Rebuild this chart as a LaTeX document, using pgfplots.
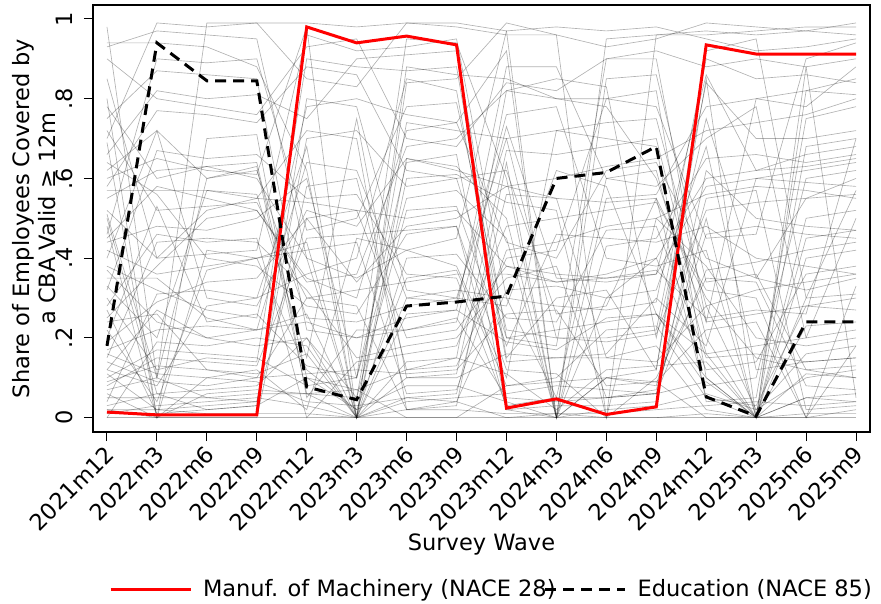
\documentclass[border=0pt]{standalone}
\usepackage{fontspec}
\setmainfont{DejaVu Sans}
\usepackage{pgfplots}
\usepackage{pgfplotstable}
\pgfplotsset{compat=1.18}
\newcommand\F{\fontsize{22.5}{26}\selectfont}

\pgfplotstableread{
id w0 w1 w2 w3 w4 w5 w6 w7 w8 w9 w10 w11 w12 w13 w14 w15
s1 0.98 0.10 0.99 0.99 0.99 0.98 0.99 0.99 0.97 0.00 0.95 0.96 0.96 0.97 0.98 0.98
s2 0.94 0.94 0.93 0.88 0.62 0.00 0.65 0.62 0.58 0.55 0.54 0.55 0.05 0.00 0.30 0.57
s3 0.70 0.99 0.98 0.99 0.85 0.83 0.99 0.98 0.96 0.96 0.00 0.96 0.97 0.96 0.97 0.99
s4 0.62 0.72 0.60 0.63 0.06 0.05 0.74 0.72 0.70 0.20 0.20 0.22 0.84 0.70 0.70 0.72
s5 0.80 0.00 0.42 0.40 0.44 0.00 0.88 0.86 0.85 0.80 0.80 0.82 0.10 0.00 0.82 0.85
s6 0.57 0.57 0.57 0.55 0.54 0.52 0.50 0.52 0.38 0.34 0.35 0.36 0.58 0.60 0.59 0.58
s7 0.35 0.35 0.25 0.22 0.24 0.20 0.22 0.25 0.05 0.04 0.05 0.06 0.37 0.39 0.42 0.44
s8 0.51 0.10 0.05 0.04 0.70 0.72 0.58 0.60 0.62 0.26 0.28 0.55 0.30 0.15 0.12 0.10
s9 0.12 0.27 0.20 0.18 0.20 0.00 0.30 0.32 0.30 0.05 0.05 0.07 0.46 0.48 0.46 0.45
s10 0.05 0.05 0.05 0.06 0.06 0.00 0.10 0.10 0.16 0.15 0.15 0.18 0.02 0.00 0.00 0.18
s11 0.00 0.00 0.00 0.00 0.00 0.00 0.00 0.00 0.00 0.00 0.00 0.00 0.00 0.00 0.00 0.00
s12 0.02 0.02 0.01 0.01 0.01 0.00 0.02 0.02 0.01 0.01 0.00 0.00 0.01 0.00 0.01 0.01
s13 0.93 0.97 0.96 0.95 0.40 0.35 0.42 0.45 0.97 0.98 0.97 0.98 0.95 0.92 0.93 0.95
s14 0.66 0.82 0.80 0.81 0.75 0.90 0.91 0.92 0.20 0.18 0.90 0.90 0.24 0.80 0.82 0.81
s15 0.78 0.60 0.63 0.64 0.10 0.07 0.12 0.15 0.82 0.85 0.83 0.20 0.75 0.35 0.55 0.60
s16 0.44 0.48 0.47 0.50 0.60 0.10 0.55 0.57 0.45 0.00 0.43 0.45 0.65 0.66 0.64 0.66
s17 0.30 0.12 0.15 0.14 0.90 0.88 0.87 0.88 0.15 0.30 0.32 0.12 0.85 0.00 0.88 0.90
s18 0.25 0.38 0.50 0.52 0.35 0.30 0.72 0.74 0.44 0.40 0.62 0.64 0.40 0.35 0.32 0.35
s19 0.17 0.22 0.23 0.22 0.26 0.00 0.05 0.06 0.56 0.55 0.15 0.14 0.28 0.02 0.16 0.18
s20 0.08 0.15 0.14 0.13 0.45 0.46 0.47 0.48 0.12 0.11 0.00 0.10 0.35 0.34 0.08 0.07
s21 0.60 0.65 0.62 0.61 0.98 0.00 0.84 0.85 0.99 0.96 0.93 0.95 0.99 0.98 0.97 0.96
s22 0.48 0.00 0.70 0.71 0.05 0.22 0.22 0.24 0.73 0.35 0.34 0.36 0.86 0.62 0.63 0.65
s23 0.22 0.04 0.37 0.40 0.12 0.02 0.35 0.37 0.08 0.10 0.22 0.23 0.05 0.03 0.28 0.27
s24 0.14 0.09 0.08 0.10 0.30 0.28 0.02 0.04 0.32 0.33 0.30 0.40 0.12 0.14 0.36 0.38
s25 0.40 0.72 0.30 0.28 0.52 0.48 0.65 0.63 0.50 0.00 0.10 0.08 0.55 0.57 0.02 0.03
s26 0.33 0.20 0.57 0.56 0.15 0.75 0.10 0.11 0.67 0.66 0.68 0.70 0.20 0.00 0.50 0.52
s27 0.04 0.31 0.32 0.30 0.68 0.00 0.40 0.41 0.25 0.24 0.47 0.48 0.15 0.16 0.14 0.15
s28 0.10 0.17 0.16 0.15 0.08 0.10 0.64 0.66 0.02 0.03 0.03 0.04 0.62 0.50 0.48 0.47
s29 0.06 0.00 0.10 0.12 0.02 0.45 0.42 0.38 0.10 0.72 0.70 0.68 0.04 0.05 0.75 0.78
s30 0.75 0.87 0.86 0.85 0.22 0.20 0.25 0.27 0.88 0.88 0.60 0.58 0.70 0.78 0.20 0.22
s31 0.69 0.00 0.00 0.00 0.58 0.60 0.12 0.13 0.40 0.42 0.80 0.78 0.45 0.46 0.90 0.94
s32 0.20 0.53 0.24 0.26 0.13 0.10 0.95 0.94 0.60 0.00 0.10 0.12 0.92 0.95 0.30 0.31
s33 0.15 0.44 0.45 0.44 0.32 0.15 0.18 0.20 0.35 0.38 0.05 0.06 0.50 0.00 0.40 0.42
s34 0.27 0.01 0.02 0.03 0.80 0.78 0.32 0.30 0.28 0.62 0.58 0.26 0.08 0.10 0.60 0.62
s35 0.55 0.62 0.63 0.60 0.40 0.00 0.60 0.61 0.54 0.52 0.00 0.50 0.56 0.58 0.57 0.55
s36 0.01 0.03 0.04 0.05 0.03 0.00 0.04 0.05 0.06 0.08 0.07 0.06 0.09 0.00 0.05 0.06
s37 0.03 0.06 0.02 0.03 0.10 0.02 0.08 0.08 0.04 0.00 0.02 0.03 0.06 0.02 0.10 0.12
s38 0.09 0.13 0.12 0.11 0.16 0.00 0.14 0.15 0.11 0.02 0.12 0.13 0.14 0.00 0.11 0.10
s39 0.46 0.90 0.89 0.90 0.47 0.50 0.78 0.79 0.22 0.20 0.19 0.21 0.52 0.54 0.55 0.56
s40 0.37 0.24 0.20 0.22 0.64 0.62 0.30 0.29 0.76 0.78 0.40 0.38 0.42 0.00 0.45 0.47
s41 0.85 0.40 0.52 0.55 0.72 0.70 0.02 0.03 0.64 0.00 0.55 0.56 0.78 0.80 0.78 0.88
s42 0.12 0.08 0.28 0.30 0.36 0.40 0.85 0.82 0.14 0.15 0.16 0.30 0.18 0.60 0.62 0.64
s43 0.28 0.46 0.44 0.45 0.00 0.14 0.16 0.18 0.48 0.50 0.52 0.54 0.32 0.30 0.00 0.33
s44 0.64 0.56 0.40 0.38 0.28 0.26 0.46 0.48 0.02 0.00 0.30 0.32 0.68 0.12 0.14 0.15
s45 0.19 0.29 0.34 0.35 0.50 0.52 0.20 0.22 0.38 0.36 0.35 0.37 0.25 0.27 0.26 0.70
s46 0.50 0.06 0.07 0.08 0.20 0.05 0.52 0.53 0.18 0.46 0.45 0.44 0.48 0.40 0.38 0.36
s47 0.90 0.80 0.78 0.76 0.93 0.95 0.70 0.68 0.84 0.82 0.90 0.92 0.88 0.90 0.88 0.05
s48 0.00 0.19 0.18 0.20 0.18 0.00 0.26 0.27 0.19 0.17 0.25 0.26 0.10 0.00 0.23 0.24
s49 0.42 0.36 0.38 0.40 0.42 0.44 0.06 0.07 0.42 0.44 0.48 0.50 0.38 0.20 0.18 0.20
s50 0.07 0.10 0.60 0.62 0.25 0.24 0.28 0.30 0.70 0.72 0.74 0.75 0.28 0.32 0.34 0.36
s51 0.32 0.67 0.65 0.66 0.55 0.56 0.36 0.35 0.03 0.05 0.60 0.62 0.16 0.18 0.20 0.50
s52 0.52 0.40 0.41 0.42 0.96 0.92 0.93 0.95 0.30 0.28 0.27 0.29 0.90 0.85 0.86 0.84
s53 0.16 0.11 0.10 0.09 0.04 0.03 0.05 0.04 0.00 0.01 0.01 0.02 0.03 0.04 0.03 0.04
s54 0.24 0.26 0.12 0.10 0.11 0.12 0.11 0.12 0.26 0.27 0.08 0.09 0.22 0.24 0.00 0.02
s55 0.72 0.52 0.53 0.54 0.30 0.32 0.34 0.36 0.36 0.34 0.36 0.40 0.60 0.62 0.66 0.68
s56 0.02 0.00 0.06 0.07 0.06 0.07 0.00 0.00 0.08 0.09 0.10 0.09 0.00 0.00 0.05 0.04
s57 0.38 0.32 0.27 0.25 0.78 0.80 0.76 0.74 0.92 0.00 0.85 0.86 0.34 0.36 0.12 0.13
s58 0.58 0.77 0.76 0.74 0.88 0.86 0.62 0.60 0.20 0.22 0.24 0.26 0.16 0.00 0.68 0.70
s59 0.11 0.02 0.03 0.04 0.50 0.34 0.48 0.50 0.58 0.60 0.63 0.65 0.72 0.74 0.76 0.80
s60 0.45 0.58 0.55 0.52 0.34 0.36 0.68 0.70 0.82 0.80 0.78 0.60 0.24 0.26 0.28 0.30
}\rawgray
\pgfplotstabletranspose[colnames from=id]\graydata{\rawgray}

\pgfplotstableread{
x machinery education
0 0.014 0.18
1 0.007 0.94
2 0.007 0.845
3 0.007 0.845
4 0.98 0.077
5 0.94 0.045
6 0.957 0.28
7 0.935 0.29
8 0.024 0.305
9 0.047 0.60
10 0.008 0.615
11 0.027 0.68
12 0.935 0.052
13 0.912 0.004
14 0.912 0.24
15 0.912 0.24
}\highlight

\begin{document}
\begin{tikzpicture}
\useasboundingbox (-93pt,-171pt) rectangle (788pt,432pt);
\begin{axis}[
  at={(0pt,0pt)}, anchor=south west,
  scale only axis, width=777pt, height=427pt,
  xmin=-0.28, xmax=15.28, ymin=-0.036, ymax=1.035,
  xtick={0,...,15},
  xticklabels={2021m12,2022m3,2022m6,2022m9,2022m12,2023m3,2023m6,2023m9,2023m12,2024m3,2024m6,2024m9,2024m12,2025m3,2025m6,2025m9},
  ytick={0,0.2,0.4,0.6,0.8,1},
  yticklabels={0,.2,.4,.6,.8,1},
  xtick pos=bottom, ytick pos=left,
  tick align=outside, major tick length=9pt,
  tick style={black, line width=1pt},
  axis line style={black, line width=1.3pt},
  xticklabel style={xshift=-3pt, rotate=45, anchor=north east, inner sep=2pt, font=\F},
  yticklabel style={xshift=-8pt, rotate=90, anchor=south, font=\F},
  xlabel={Survey Wave},
  ylabel={Share of Employees Covered by\\a CBA Valid ≥ 12m},
  label style={font=\F},
  xlabel style={yshift=5pt},
  ylabel style={align=center, yshift=-7pt},
  legend columns=2,
  legend image code/.code={\draw[#1] (0pt,0pt) -- (80pt,0pt);},
  legend style={at={(0.0206,-0.3677)}, anchor=west, draw=none, fill=none,
    font=\F, inner sep=0pt, outer sep=0pt,
    nodes={inner sep=0pt},
    /tikz/every odd column/.append style={column sep=11pt},
    /tikz/every even column/.append style={column sep=-12pt}},
]
\pgfplotsinvokeforeach{1,...,60}{
  \addplot[black, opacity=0.3, line width=0.65pt, forget plot] table[x expr=\coordindex, y=s#1] {\graydata};
}
\addplot[red, line width=3pt] table[x=x, y=machinery] {\highlight};
\addlegendentry{Manuf. of Machinery (NACE 28)}
\addplot[black, line width=3pt, dash pattern=on 11pt off 7pt] table[x=x, y=education] {\highlight};
\addlegendentry{Education (NACE 85)}
\end{axis}
\end{tikzpicture}
\end{document}
